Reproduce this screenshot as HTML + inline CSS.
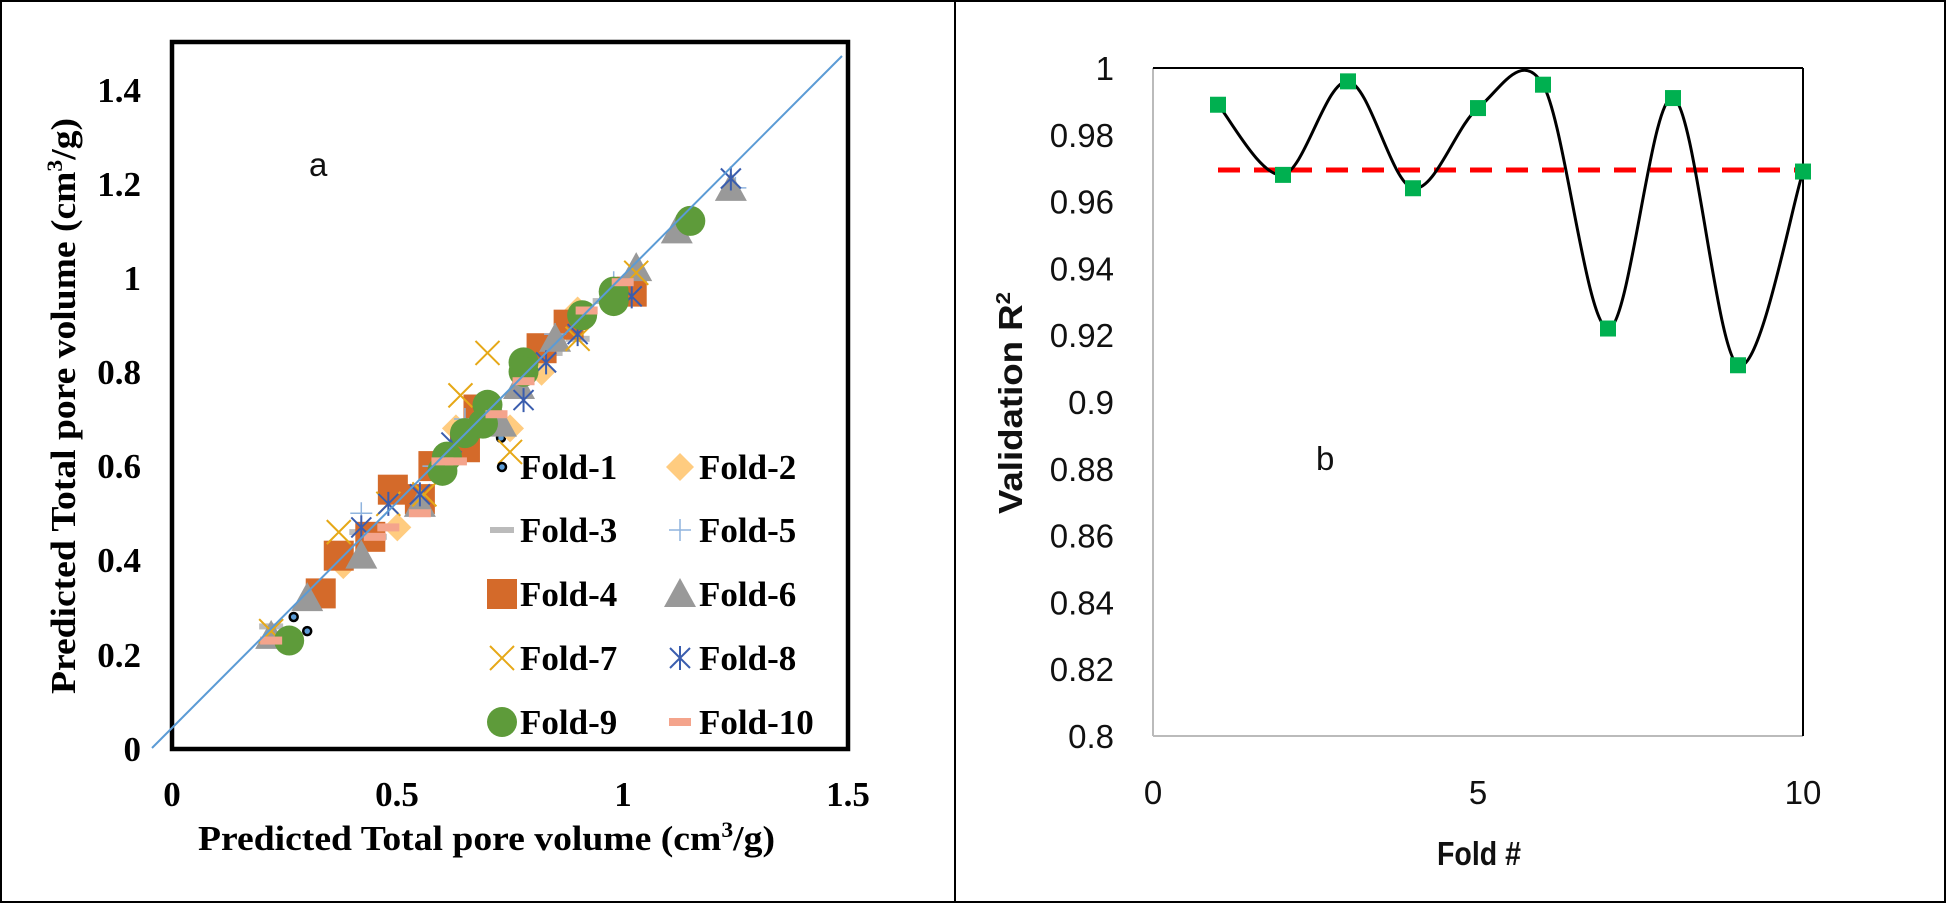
<!DOCTYPE html>
<html><head><meta charset="utf-8"><style>
html,body{margin:0;padding:0;background:#fff}
svg{display:block}
.t{font-family:"Liberation Serif",serif;font-weight:bold;font-size:35px;fill:#000}
.s{font-family:"Liberation Sans",sans-serif;font-size:33px;fill:#111}
</style></head><body>
<svg id="g" width="1946" height="903" xmlns="http://www.w3.org/2000/svg">
<rect x="1" y="1" width="1944" height="901" fill="#fff" stroke="#000" stroke-width="2"/>
<line x1="955" y1="0" x2="955" y2="903" stroke="#000" stroke-width="2"/>
<rect x="172" y="42" width="676" height="707" fill="none" stroke="#000" stroke-width="4.5"/>
<g id="pts"></g>
<line x1="152" y1="748" x2="842" y2="56" stroke="#5B9BD5" stroke-width="2"/>
<g class="t" text-anchor="end">
<text x="141" y="761">0</text><text x="141" y="667">0.2</text><text x="141" y="572">0.4</text>
<text x="141" y="478">0.6</text><text x="141" y="384">0.8</text><text x="141" y="290">1</text>
<text x="141" y="196">1.2</text><text x="141" y="102">1.4</text>
</g>
<g class="t" text-anchor="middle">
<text x="172" y="806">0</text><text x="397" y="806">0.5</text><text x="623" y="806">1</text><text x="848" y="806">1.5</text>
</g>
<text class="t" x="198" y="850" font-size="36" textLength="577" lengthAdjust="spacingAndGlyphs">Predicted Total pore volume (cm<tspan dy="-13" font-size="22">3</tspan><tspan dy="13">/g)</tspan></text>
<text class="t" transform="translate(75,694) rotate(-90)" font-size="36" textLength="576" lengthAdjust="spacingAndGlyphs">Predicted Total pore volume (cm<tspan dy="-13" font-size="22">3</tspan><tspan dy="13">/g)</tspan></text>
<text class="s" x="309" y="176" font-size="36">a</text>
<g id="leg"></g>
<line x1="1153" y1="68" x2="1153" y2="736" stroke="#bbb" stroke-width="2"/>
<line x1="1153" y1="736" x2="1803" y2="736" stroke="#bbb" stroke-width="2"/>
<line x1="1153" y1="68" x2="1803" y2="68" stroke="#000" stroke-width="2"/>
<line x1="1803" y1="68" x2="1803" y2="736" stroke="#000" stroke-width="2"/>
<g class="s" text-anchor="end" id="ry"></g>
<g class="s" text-anchor="middle">
<text x="1153" y="804">0</text><text x="1478" y="804">5</text><text x="1803" y="804">10</text>
</g>
<text class="s" x="1437" y="865" font-weight="bold" textLength="84" lengthAdjust="spacingAndGlyphs">Fold #</text>
<text class="s" transform="translate(1022,514) rotate(-90)" font-weight="bold" font-size="34" textLength="222" lengthAdjust="spacingAndGlyphs">Validation R<tspan dy="-12" font-size="20">2</tspan></text>
<text class="s" x="1316" y="470" font-size="38">b</text>
<line x1="1218" y1="170" x2="1803" y2="170" stroke="#FF0000" stroke-width="5" stroke-dasharray="22,14"/>
<path id="cur" fill="none" stroke="#000" stroke-width="3"/>
<g id="rm"></g>
</svg>
<script>
var NS="http://www.w3.org/2000/svg";
function el(p,t,a){var e=document.createElementNS(NS,t);for(var k in a)e.setAttribute(k,a[k]);p.appendChild(e);return e;}
function mk(p,type,x,y){
 switch(type){
 case 1: el(p,'circle',{cx:x,cy:y,r:4,fill:'#5B9BD5',stroke:'#000','stroke-width':2.5});break;
 case 2: el(p,'polygon',{points:(x)+','+(y-14)+' '+(x+14)+','+y+' '+x+','+(y+14)+' '+(x-14)+','+y,fill:'#FFCC80'});break;
 case 3: el(p,'rect',{x:x-12,y:y-3,width:24,height:6,fill:'#BBBBBB'});break;
 case 4: el(p,'rect',{x:x-15,y:y-15,width:30,height:30,fill:'#D46A2A'});break;
 case 5: el(p,'path',{d:'M'+(x-11)+' '+y+'H'+(x+11)+'M'+x+' '+(y-11)+'V'+(y+11),stroke:'#8FB4DE','stroke-width':1.5});break;
 case 6: el(p,'polygon',{points:x+','+(y-16)+' '+(x+16)+','+(y+13)+' '+(x-16)+','+(y+13),fill:'#999999'});break;
 case 7: el(p,'path',{d:'M'+(x-12)+' '+(y-12)+'L'+(x+12)+' '+(y+12)+'M'+(x+12)+' '+(y-12)+'L'+(x-12)+' '+(y+12),stroke:'#E6A817','stroke-width':2});break;
 case 8: el(p,'path',{d:'M'+(x-10)+' '+(y-10)+'L'+(x+10)+' '+(y+10)+'M'+(x+10)+' '+(y-10)+'L'+(x-10)+' '+(y+10)+'M'+x+' '+(y-12)+'V'+(y+12),stroke:'#3A5DAE','stroke-width':2});break;
 case 9: el(p,'circle',{cx:x,cy:y,r:15,fill:'#5E9B3A'});break;
 case 10: el(p,'rect',{x:x-11,y:y-4,width:22,height:8,fill:'#F4A48C'});break;
 }}
var D={
1:[[.27,.28],[.3,.25],[.56,.58],[.73,.66],[.6,.62],[.52,.55]],
2:[[.38,.39],[.9,.93],[.75,.68],[.82,.8],[.63,.68],[.5,.47],[.7,.72]],
3:[[1.12,1.08],[.9,.87],[.45,.45],[.42,.46],[.22,.26],[.96,.95],[.6,.62],[.84,.84]],
4:[[.37,.41],[.33,.33],[.49,.55],[.58,.6],[.82,.85],[.88,.9],[1.02,.97],[.68,.72],[.55,.53],[.44,.45],[.65,.64]],
5:[[1.25,1.19],[.85,.88],[.42,.5],[.58,.6],[.98,.99],[.65,.7]],
6:[[1.24,1.19],[1.12,1.1],[1.03,1.02],[.3,.32],[.42,.41],[.22,.24],[.85,.87],[.77,.77],[.55,.52],[.73,.69]],
7:[[.7,.84],[.64,.75],[.37,.46],[.75,.63],[.22,.25],[.9,.87],[1.03,1.01],[.56,.54],[.48,.52]],
8:[[1.24,1.21],[.78,.74],[.42,.47],[.48,.52],[.55,.54],[.9,.88],[1.02,.96],[.62,.65],[.83,.82]],
9:[[.26,.23],[1.15,1.12],[.98,.97],[.91,.92],[.78,.82],[.70,.73],[.60,.59],[.65,.67],[.78,.80],[.98,.95],[.61,.62],[.69,.69]],
10:[[.22,.23],[.45,.45],[.48,.47],[.55,.5],[.6,.61],[.63,.61],[.78,.78],[.72,.71],[.92,.93],[1.0,.99]]};
var P=document.getElementById('pts');
for(var f=1;f<=10;f++)D[f].forEach(function(d){mk(P,f,172+450.7*d[0],749-471.5*d[1]);});
var L=document.getElementById('leg');
var lg=[[1,2],[3,5],[4,6],[7,8],[9,10]],ry=[467,530,594,658,722];
lg.forEach(function(r,i){
 mk(L,r[0],502,ry[i]); var t=el(L,'text',{x:520,y:ry[i]+12,'class':'t'});t.textContent='Fold-'+r[0];
 mk(L,r[1],680,ry[i]); t=el(L,'text',{x:699,y:ry[i]+12,'class':'t'});t.textContent='Fold-'+r[1];
});
var RY=document.getElementById('ry');
for(var i=0;i<=10;i++){var v=0.8+i*0.02;var t=el(RY,'text',{x:1114,y:736-i*66.8+12});t.textContent=(i==10?'1':(i==5?'0.9':(i==0?'0.8':v.toFixed(2))));}
var vals=[.989,.968,.996,.964,.988,.995,.922,.991,.911,.969];
var pts=vals.map(function(v,i){return[1153+65*(i+1),736-(v-0.8)*3340];});
var d='M'+pts[0][0]+' '+pts[0][1];
for(var i=0;i<pts.length-1;i++){
 var p0=pts[i-1]||pts[i],p1=pts[i],p2=pts[i+1],p3=pts[i+2]||pts[i+1];
 var c1=[p1[0]+(p2[0]-p0[0])/6,p1[1]+(p2[1]-p0[1])/6],c2=[p2[0]-(p3[0]-p1[0])/6,p2[1]-(p3[1]-p1[1])/6];
 d+=' C'+c1+' '+c2+' '+p2;
}
document.getElementById('cur').setAttribute('d',d);
var RM=document.getElementById('rm');
pts.forEach(function(p){el(RM,'rect',{x:p[0]-8,y:p[1]-8,width:16,height:16,fill:'#00B050'});});
</script>
</body></html>
